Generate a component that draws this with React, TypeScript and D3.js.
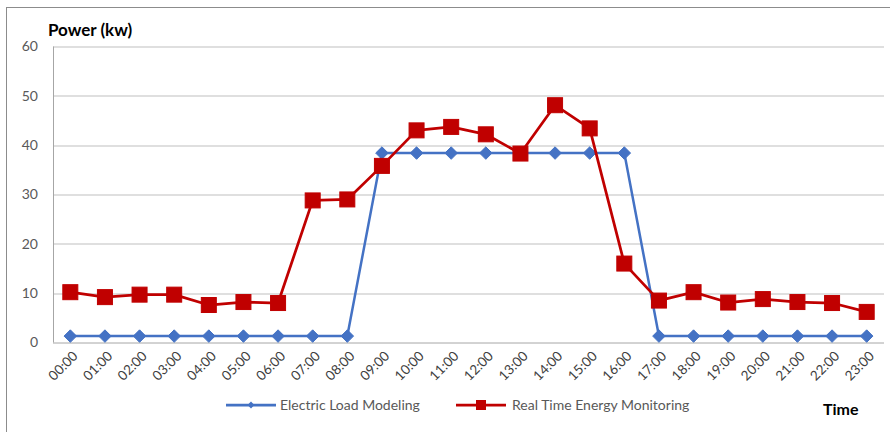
import * as d3 from "d3";
import { useEffect, useRef } from "react";

const hours = [
  "00:00", "01:00", "02:00", "03:00", "04:00", "05:00", "06:00", "07:00",
  "08:00", "09:00", "10:00", "11:00", "12:00", "13:00", "14:00", "15:00",
  "16:00", "17:00", "18:00", "19:00", "20:00", "21:00", "22:00", "23:00",
];

const loadModeling = [
  1.3, 1.3, 1.3, 1.3, 1.3, 1.3, 1.3, 1.3, 1.3,
  38.4, 38.4, 38.4, 38.4, 38.4, 38.4, 38.4, 38.4,
  1.3, 1.3, 1.3, 1.3, 1.3, 1.3, 1.3,
];

const energyMonitoring = [
  10.2, 9.2, 9.7, 9.7, 7.6, 8.2, 8.0, 28.8, 29.0, 35.8, 43.0, 43.7,
  42.2, 38.3, 48.1, 43.4, 16.0, 8.5, 10.2, 8.1, 8.8, 8.2, 8.0, 6.2,
];

const yTicks = [0, 10, 20, 30, 40, 50, 60];

const BLUE = "#4472C4";
const RED = "#C00000";
const TEXT = "#595959";
const FONT = "Lato, 'Open Sans', sans-serif";

const WIDTH = 890;
const HEIGHT = 432;
const margin = { top: 46.5, right: 6, bottom: 89.5, left: 53 };

function drawChart(svgEl: SVGSVGElement) {
  const svg = d3.select(svgEl);
  svg.selectAll("*").remove();

  const innerW = WIDTH - margin.left - margin.right;
  const innerH = HEIGHT - margin.top - margin.bottom;

  const x = d3.scaleBand<string>().domain(hours).range([0, innerW]);
  const y = d3.scaleLinear().domain([0, 60]).range([innerH, 0]);
  const cx = (h: string) => (x(h) as number) + x.bandwidth() / 2;

  // outer chart frame (cropped at right/bottom)
  svg
    .append("rect")
    .attr("x", 6.5)
    .attr("y", 7.5)
    .attr("width", WIDTH)
    .attr("height", HEIGHT)
    .attr("fill", "none")
    .attr("stroke", "#8c8c8c")
    .attr("stroke-width", 1);

  const g = svg
    .append("g")
    .attr("transform", `translate(${margin.left},${margin.top})`);

  // gridlines
  g.append("g")
    .selectAll("line")
    .data(yTicks)
    .join("line")
    .attr("x1", 0)
    .attr("x2", innerW)
    .attr("y1", (d) => Math.round(y(d)) + 0.5)
    .attr("y2", (d) => Math.round(y(d)) + 0.5)
    .attr("stroke", (d) => (d === 0 ? "#a6a6a6" : "#bfbfbf"))
    .attr("stroke-width", 1);

  // left axis line
  g.append("line")
    .attr("x1", 0.5)
    .attr("x2", 0.5)
    .attr("y1", 0)
    .attr("y2", innerH)
    .attr("stroke", "#a6a6a6");

  // y tick labels
  g.append("g")
    .selectAll("text")
    .data(yTicks)
    .join("text")
    .attr("x", -15)
    .attr("y", (d) => y(d))
    .attr("dy", "0.35em")
    .attr("text-anchor", "end")
    .attr("fill", TEXT)
    .style("font", `14px ${FONT}`)
    .text((d) => d);

  // x tick labels (rotated)
  g.append("g")
    .selectAll("text")
    .data(hours)
    .join("text")
    .attr(
      "transform",
      (d) => `translate(${cx(d) + 5},${innerH + 11}) rotate(-45)`
    )
    .attr("text-anchor", "end")
    .attr("dy", "0.35em")
    .attr("fill", "#404040")
    .style("font", `13.5px ${FONT}`)
    .text((d) => d);

  const line = d3
    .line<number>()
    .x((_, i) => cx(hours[i]))
    .y((d) => y(d));

  // blue series
  g.append("path")
    .datum(loadModeling)
    .attr("d", line)
    .attr("fill", "none")
    .attr("stroke", BLUE)
    .attr("stroke-width", 2.5)
    .attr("stroke-linejoin", "round");

  g.append("g")
    .selectAll("path")
    .data(loadModeling)
    .join("path")
    .attr("d", d3.symbol(d3.symbolDiamond2, 100))
    .attr("transform", (d, i) => `translate(${cx(hours[i])},${y(d)})`)
    .attr("fill", BLUE)
    .attr("stroke", BLUE);

  // red series
  g.append("path")
    .datum(energyMonitoring)
    .attr("d", line)
    .attr("fill", "none")
    .attr("stroke", RED)
    .attr("stroke-width", 2.75)
    .attr("stroke-linejoin", "round");

  g.append("g")
    .selectAll("rect")
    .data(energyMonitoring)
    .join("rect")
    .attr("x", (_, i) => cx(hours[i]) - 7.5)
    .attr("y", (d) => y(d) - 7.5)
    .attr("width", 15)
    .attr("height", 15)
    .attr("fill", RED)
    .attr("stroke", RED);

  // axis titles
  svg
    .append("text")
    .attr("x", 48)
    .attr("y", 36)
    .attr("fill", "#000")
    .style("font", `bold 17px ${FONT}`)
    .text("Power (kw)");

  svg
    .append("text")
    .attr("x", 823)
    .attr("y", 415)
    .attr("fill", "#000")
    .style("font", `bold 16px ${FONT}`)
    .text("Time");

  // legend
  const legendItems = [
    { label: "Electric Load Modeling", color: BLUE, x: 226, kind: "diamond" },
    { label: "Real Time Energy Monitoring", color: RED, x: 456, kind: "square" },
  ];
  const legend = svg
    .append("g")
    .selectAll("g")
    .data(legendItems)
    .join("g")
    .attr("transform", (d) => `translate(${d.x},405)`);

  legend
    .append("line")
    .attr("x1", 0)
    .attr("x2", 50)
    .attr("stroke", (d) => d.color)
    .attr("stroke-width", 2.75);

  legend
    .filter((d) => d.kind === "diamond")
    .append("path")
    .attr("d", d3.symbol(d3.symbolDiamond2, 30))
    .attr("transform", "translate(25,0)")
    .attr("fill", BLUE);

  legend
    .filter((d) => d.kind === "square")
    .append("rect")
    .attr("x", 20)
    .attr("y", -5)
    .attr("width", 10)
    .attr("height", 10)
    .attr("fill", RED);

  legend
    .append("text")
    .attr("x", (d) => (d.kind === "diamond" ? 54 : 56))
    .attr("dy", "0.35em")
    .attr("fill", TEXT)
    .style("font", `14px ${FONT}`)
    .text((d) => d.label);
}

const App = () => {
  const svgRef = useRef<SVGSVGElement | null>(null);

  useEffect(() => {
    if (!svgRef.current) return;
    drawChart(svgRef.current);
  }, []);

  return (
    <svg
      ref={svgRef}
      width={WIDTH}
      height={HEIGHT}
      style={{ position: "absolute", left: 0, top: 0, background: "#fff" }}
    />
  );
};

export default App;
